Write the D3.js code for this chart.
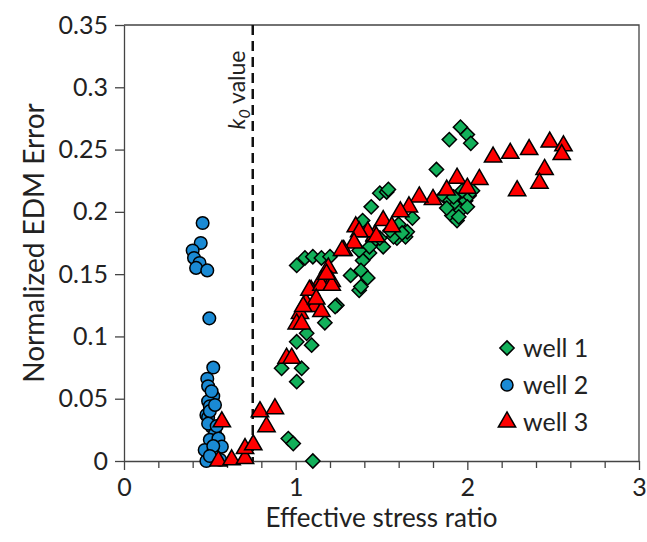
<!DOCTYPE html>
<html>
<head>
<meta charset="utf-8">
<script src="https://cdn.jsdelivr.net/npm/d3@7"></script>
<style>
  body { margin: 0; background: #fff; }
  svg { display: block; font-family: Lato, "Open Sans", sans-serif; }
</style>
</head>
<body>
<div id="chart"></div>
<script>
// well 1 (green diamonds) [stress ratio, EDM error]
const well1 = [
  [1.96,0.268],[2.00,0.262],[2.02,0.255],[1.895,0.258],[1.82,0.234],
  [1.86,0.213],[1.90,0.209],[1.93,0.205],[1.96,0.201],[1.99,0.209],[2.01,0.213],
  [1.91,0.197],[1.94,0.193],[1.88,0.203],[1.97,0.217],[2.00,0.204],[2.03,0.217],
  [1.95,0.196],[1.92,0.212],
  [1.49,0.215],[1.53,0.216],[1.54,0.218],[1.44,0.204],[1.64,0.180],[1.59,0.179],
  [1.51,0.172],[1.43,0.167],[1.39,0.161],[1.32,0.149],[1.38,0.153],[1.42,0.147],
  [1.37,0.137],[1.38,0.140],[1.39,0.193],[1.68,0.195],[1.65,0.184],[1.57,0.180],
  [1.45,0.176],[1.55,0.185],[1.60,0.190],[1.62,0.183],[1.43,0.172],[1.37,0.169],
  [1.49,0.179],
  [1.006,0.157],[1.054,0.163],[1.10,0.164],[1.15,0.163],[1.20,0.164],
  [1.24,0.125],[1.17,0.111],[1.23,0.124],[1.064,0.1025],[1.006,0.0957],[1.093,0.093],
  [0.918,0.0744],[1.035,0.0744],[1.006,0.0637],[0.957,0.018],[0.986,0.014],[1.10,0.0]
];

// well 2 (blue circles)
const well2 = [
  [0.458,0.191],[0.447,0.175],[0.40,0.169],[0.408,0.163],[0.44,0.159],[0.42,0.155],
  [0.485,0.153],[0.497,0.1145],[0.52,0.075],[0.485,0.066],[0.49,0.060],[0.52,0.052],
  [0.49,0.048],[0.50,0.044],[0.48,0.037],[0.49,0.035],[0.51,0.0275],[0.53,0.022],
  [0.50,0.017],[0.55,0.018],[0.47,0.0088],[0.52,0.0075],[0.57,0.0115],[0.48,0.0],
  [0.56,0.001],[0.50,0.040],[0.53,0.045],[0.51,0.056],[0.49,0.030],[0.52,0.012],
  [0.50,0.004],[0.54,0.028]
];

// well 3 (red triangles)
const well3 = [
  [2.15,0.244],[2.25,0.247],[2.36,0.250],[2.48,0.256],[2.56,0.253],[2.55,0.246],
  [2.45,0.234],[2.42,0.223],[2.29,0.217],[2.07,0.226],[1.94,0.227],[2.00,0.219],
  [1.88,0.2175],[1.80,0.210],[1.72,0.212],[1.66,0.204],[1.61,0.200],[1.51,0.193],
  [1.56,0.188],[1.46,0.181],[1.42,0.184],[1.35,0.188],[1.37,0.184],[1.34,0.175],
  [1.28,0.169],[1.47,0.180],[1.27,0.169],[1.19,0.155],[1.15,0.145],[1.21,0.144],
  [1.09,0.137],[1.06,0.127],[1.11,0.124],[1.025,0.1185],[1.006,0.110],[1.08,0.137],
  [1.15,0.141],[1.21,0.141],[1.044,0.124],[1.15,0.120],[1.035,0.110],[1.12,0.130],
  [1.18,0.150],
  [0.947,0.0825],[0.977,0.0825],[0.792,0.0396],[0.879,0.042],[0.83,0.0275],
  [0.57,0.0315],[0.55,0.0],[0.627,0.001],[0.705,0.002],[0.705,0.010],[0.753,0.013]
];

const xTicks = [0, 1, 2, 3];
const xTickLabels = ['0', '1', '2', '3'];
const yTicks = [0, 0.05, 0.1, 0.15, 0.2, 0.25, 0.3, 0.35];
const yTickLabels = ['0', '0.05', '0.1', '0.15', '0.2', '0.25', '0.3', '0.35'];
const k0 = 0.75;
const legendNames = ['well 1', 'well 2', 'well 3'];

function drawChart() {
    const width = 647;
    const height = 542;
    const margin = { top: 25, right: 8, bottom: 81, left: 124 };

    const svg = d3.select('#chart')
        .append('svg')
        .attr('width', width)
        .attr('height', height);

    const xScale = d3.scaleLinear().domain([0, 3]).range([margin.left, width - margin.right]);
    const yScale = d3.scaleLinear().domain([0, 0.35]).range([height - margin.bottom, margin.top]);

    const textColor = '#222';
    const green = '#12b05a', blue = '#1a8ad4', red = '#ff0000';

    // Frame (top and right)
    svg.append('path')
        .attr('d', `M${xScale(0)},${yScale(0.35)}H${xScale(3)}V${yScale(0)}`)
        .attr('fill', 'none')
        .attr('stroke', '#444')
        .attr('stroke-width', 1.3);

    // Minor x ticks every 0.2
    const minor = d3.range(0, 3.001, 0.2).filter(v => Math.abs(v - Math.round(v)) > 0.01);
    svg.append('g')
        .attr('transform', `translate(0,${yScale(0)})`)
        .call(d3.axisBottom(xScale).tickValues(minor).tickSize(7).tickFormat(''))
        .call(g => g.select('.domain').remove())
        .call(g => g.selectAll('line').attr('stroke', '#444').attr('stroke-width', 1.3));

    // X axis
    svg.append('g')
        .attr('transform', `translate(0,${yScale(0)})`)
        .call(d3.axisBottom(xScale).tickValues(xTicks).tickSize(9).tickSizeOuter(0)
            .tickFormat((d, i) => xTickLabels[i]))
        .call(g => g.select('.domain').attr('stroke', '#444').attr('stroke-width', 1.3))
        .call(g => g.selectAll('line').attr('stroke', '#444').attr('stroke-width', 1.3))
        .call(g => g.selectAll('text')
            .attr('font-family', 'Lato, sans-serif')
            .attr('font-size', 25)
            .attr('fill', textColor)
            .attr('dy', '0.9em'));

    // Y axis
    svg.append('g')
        .attr('transform', `translate(${xScale(0)},0)`)
        .call(d3.axisLeft(yScale).tickValues(yTicks).tickSize(9).tickSizeOuter(0)
            .tickFormat((d, i) => yTickLabels[i]))
        .call(g => g.select('.domain').attr('stroke', '#444').attr('stroke-width', 1.3))
        .call(g => g.selectAll('line').attr('stroke', '#444').attr('stroke-width', 1.3))
        .call(g => g.selectAll('text')
            .attr('font-family', 'Lato, sans-serif')
            .attr('font-size', 25)
            .attr('fill', textColor)
            .attr('x', -16));

    // k0 dashed line
    svg.append('line')
        .attr('x1', xScale(k0)).attr('x2', xScale(k0))
        .attr('y1', yScale(0.35)).attr('y2', yScale(0))
        .attr('stroke', '#111')
        .attr('stroke-width', 2.5)
        .attr('stroke-dasharray', '10,6');

    const k0Label = svg.append('text')
        .attr('transform', `translate(${xScale(k0) - 8},90) rotate(-90)`)
        .attr('text-anchor', 'middle')
        .attr('font-size', 23)
        .attr('fill', textColor);
    k0Label.append('tspan').attr('font-style', 'italic').text('k');
    k0Label.append('tspan').attr('font-style', 'italic').attr('font-size', 16)
        .attr('dy', 5).text('0');
    k0Label.append('tspan').attr('dy', -5).text(' value');

    // Markers
    const diamond = d3.symbol().type(d3.symbolDiamond2).size(130);
    const triangle = d3.symbol().type(d3.symbolTriangle).size(130);

    svg.append('g').selectAll('path')
        .data(well1)
        .join('path')
        .attr('d', diamond)
        .attr('transform', d => `translate(${xScale(d[0])},${yScale(d[1])})`)
        .attr('fill', green)
        .attr('stroke', '#000')
        .attr('stroke-width', 1.5);

    svg.append('g').selectAll('circle')
        .data(well2)
        .join('circle')
        .attr('cx', d => xScale(d[0]))
        .attr('cy', d => yScale(d[1]))
        .attr('r', 6.3)
        .attr('fill', blue)
        .attr('stroke', '#000')
        .attr('stroke-width', 1.5);

    svg.append('g').selectAll('path')
        .data(well3)
        .join('path')
        .attr('d', triangle)
        .attr('transform', d => `translate(${xScale(d[0])},${yScale(d[1])})`)
        .attr('fill', red)
        .attr('stroke', '#000')
        .attr('stroke-width', 1.5);

    // Legend
    const legend = svg.append('g');
    const ly = [348, 385, 422];
    legendNames.forEach((name, i) => {
        const g = legend.append('g').attr('transform', `translate(507,${ly[i]})`);
        if (i === 0) {
            g.append('path').attr('d', diamond).attr('fill', green)
                .attr('stroke', '#000').attr('stroke-width', 1.5);
        } else if (i === 1) {
            g.append('circle').attr('r', 6).attr('fill', blue)
                .attr('stroke', '#000').attr('stroke-width', 1.5);
        } else {
            g.append('path').attr('d', triangle).attr('fill', red)
                .attr('stroke', '#000').attr('stroke-width', 1.5);
        }
        g.append('text')
            .attr('x', 16)
            .attr('dy', '0.35em')
            .attr('font-size', 25)
            .attr('fill', textColor)
            .text(name);
    });

    // Axis titles
    svg.append('text')
        .attr('x', (xScale(0) + xScale(3)) / 2)
        .attr('y', 527)
        .attr('text-anchor', 'middle')
        .attr('font-size', 26)
        .attr('fill', textColor)
        .text('Effective stress ratio');

    svg.append('text')
        .attr('transform', `translate(44,${(yScale(0) + yScale(0.35)) / 2}) rotate(-90)`)
        .attr('text-anchor', 'middle')
        .attr('font-size', 28)
        .attr('fill', textColor)
        .text('Normalized EDM Error');
}

document.addEventListener('DOMContentLoaded', drawChart);
</script>
</body>
</html>
